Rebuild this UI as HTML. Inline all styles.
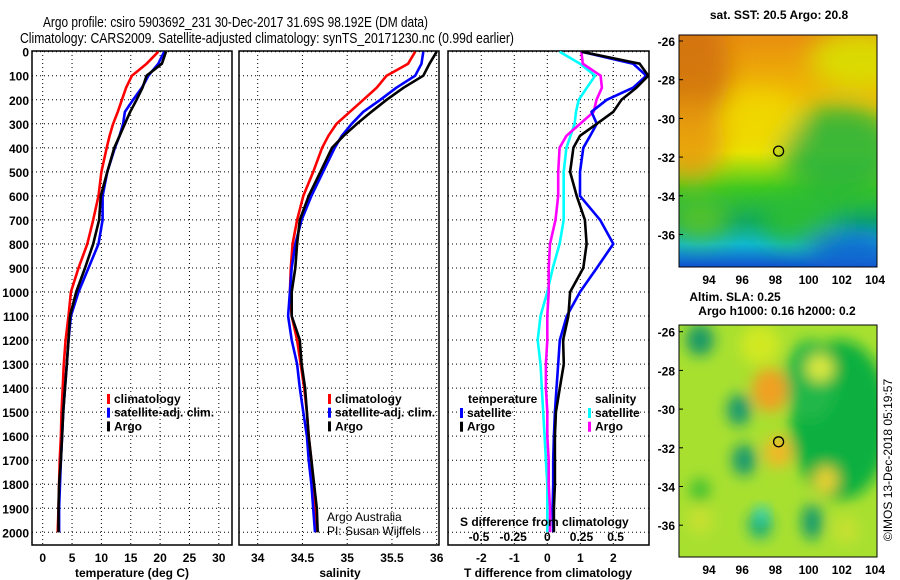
<!DOCTYPE html>
<html><head><meta charset="utf-8"><style>
html,body{margin:0;padding:0;background:#fff}
svg{display:block;font-family:"Liberation Sans",sans-serif}
.tk{font-size:12px;font-weight:bold}
</style></head><body>
<svg id="chart" width="900" height="580" viewBox="0 0 900 580" xmlns="http://www.w3.org/2000/svg">
<defs>
<filter id="blur6" x="-50%" y="-50%" width="200%" height="200%"><feGaussianBlur stdDeviation="7"/></filter>
<filter id="blur10" x="-50%" y="-50%" width="200%" height="200%"><feGaussianBlur stdDeviation="12"/></filter>
<clipPath id="c1"><rect x="32" y="51" width="200" height="494"/></clipPath>
<clipPath id="c2"><rect x="239" y="51" width="200" height="494"/></clipPath>
<clipPath id="c3"><rect x="448" y="51" width="201" height="494"/></clipPath>
<clipPath id="cm1"><rect x="679" y="35" width="198" height="232"/></clipPath>
<clipPath id="cm2"><rect x="679" y="325" width="198" height="232"/></clipPath>
<linearGradient id="sstg" x1="0" y1="0" x2="0" y2="1">
<stop offset="0" stop-color="#e88e10"/><stop offset="0.3" stop-color="#f0c000"/><stop offset="0.5" stop-color="#e8e800"/><stop offset="0.66" stop-color="#40c820"/><stop offset="0.8" stop-color="#10a860"/><stop offset="0.9" stop-color="#10b8d0"/><stop offset="1" stop-color="#1050d0"/>
</linearGradient>
</defs>
<text x="43" y="27" font-size="15" textLength="385" lengthAdjust="spacingAndGlyphs">Argo profile: csiro 5903692_231 30-Dec-2017 31.69S 98.192E (DM data)</text>
<text x="20" y="43" font-size="15" textLength="494" lengthAdjust="spacingAndGlyphs">Climatology: CARS2009. Satellite-adjusted climatology: synTS_20171230.nc (0.99d earlier)</text>
<g id="plots"></g>
<g id="maps"></g>
</svg>
<script>
const depths=[0,50,100,150,200,250,300,350,400,500,600,700,800,900,1000,1100,1200,1300,1400,1500,1600,1700,1800,1900,2000];
const tClim=[19.7,17.7,15.2,14.2,13.5,12.8,12.0,11.4,10.9,10.0,9.5,8.6,7.6,6.1,4.8,4.4,3.9,3.6,3.4,3.2,3.1,2.9,2.8,2.7,2.55];
const tSat=[20.7,19.7,18.0,16.9,15.4,14.0,13.7,13.1,12.3,11.0,10.2,10.2,9.5,7.8,6.1,4.8,4.4,4.1,3.8,3.5,3.3,3.1,2.95,2.8,2.8];
const tArgo=[21.0,20.3,17.7,17.0,16.0,14.9,14.0,13.1,12.2,11.0,9.9,9.6,8.6,7.2,5.7,4.65,4.4,4.1,3.8,3.5,3.3,3.1,2.8,2.7,2.7];
const sClim=[35.76,35.68,35.44,35.33,35.18,35.03,34.88,34.79,34.72,34.62,34.51,34.44,34.39,34.37,34.36,34.38,34.44,34.48,34.52,34.55,34.57,34.60,34.62,34.64,34.66];
const sSat=[35.85,35.83,35.76,35.55,35.37,35.18,35.05,34.94,34.86,34.73,34.60,34.49,34.42,34.38,34.36,34.34,34.38,34.44,34.47,34.51,34.55,34.57,34.60,34.62,34.64];
const sArgo=[36.0,35.92,35.85,35.63,35.44,35.27,35.11,34.96,34.83,34.70,34.57,34.47,34.44,34.42,34.38,34.38,34.47,34.49,34.53,34.55,34.57,34.60,34.63,34.66,34.67];
const dTSat=[1.04,2.6,3.0,2.6,1.8,1.34,1.5,1.3,1.09,0.99,0.99,1.6,2.0,1.5,0.99,0.59,0.38,0.33,0.28,0.23,0.2,0.18,0.18,0.16,0.18];
const dTArgo=[1.04,2.8,3.06,2.7,2.25,2.0,1.5,0.99,0.79,0.69,0.89,1.14,1.19,1.09,0.69,0.64,0.48,0.5,0.38,0.26,0.23,0.23,0.23,0.2,0.2];
const dSSat=[0.09,0.24,0.35,0.29,0.23,0.21,0.20,0.17,0.14,0.12,0.12,0.12,0.09,0.04,0.0,-0.05,-0.07,-0.05,-0.04,-0.03,-0.02,-0.01,0.0,0.0,0.0];
const dSArgo=[0.25,0.26,0.39,0.40,0.36,0.34,0.24,0.14,0.09,0.08,0.08,0.06,0.02,0.01,0.01,0.0,0.0,-0.01,-0.01,0.0,0.0,0.01,0.01,0.02,0.02];
const depthTicks=[0,100,200,300,400,500,600,700,800,900,1000,1100,1200,1300,1400,1500,1600,1700,1800,1900,2000];
const tTicks=[0,5,10,15,20,25,30];
const sTicks=[34,34.5,35,35.5,36];
const dTTicks=[-2,-1,0,1,2];
const dSTicks=[-0.5,-0.25,0,0.25,0.5];
const dSTickLabels=["-0.5","-0.25","0","0.25","0.5"];
const latTicks=[-26,-28,-30,-32,-34,-36];
const lonTicks=[94,96,98,100,102,104];
const floatLon=98.192, floatLat=-31.69;

const NS="http://www.w3.org/2000/svg";
function mk(tag,attrs,parent,txt){const e=document.createElementNS(NS,tag);for(const k in attrs)e.setAttribute(k,attrs[k]);if(txt!==undefined)e.textContent=txt;parent.appendChild(e);return e;}
const y=d=>51.7+d*0.2403;
const xT=v=>42.7+v*5.87;
const xS=v=>257.7+(v-34)*89.5;
const xDT=v=>547.3+v*33;
const xDS=v=>547.3+v*136.6;
const G=document.getElementById('plots');
const panels=[{x0:32,x1:232,clip:'c1',name:'temperature'},{x0:239,x1:439,clip:'c2',name:'salinity'},{x0:448,x1:649,clip:'c3',name:'difference'}];

function frame(p,xticks,xf,labels){
  const g=mk('g',{},G);
  
  
  depthTicks.forEach(d=>{const l=mk('line',{x1:p.x0,x2:p.x1,y1:y(d),y2:y(d),stroke:'#000','stroke-width':1,'stroke-dasharray':'1,3'},g);
    });
  xticks.forEach((v,i)=>{const X=xf(v);const l=mk('line',{x1:X,x2:X,y1:51,y2:545,stroke:'#000','stroke-width':1,'stroke-dasharray':'1,3'},g);
    
    const t=mk('text',{x:X,y:562,'text-anchor':'middle',class:'tk'},g,labels?labels[i]:String(v));
    });
  const r=mk('rect',{x:p.x0,y:51,width:p.x1-p.x0,height:494,fill:'none',stroke:'#000','stroke-width':1.5},g);
  
  return g;
}
function line(g,xs,xf,col,clip,name){
  const pts=xs.map((v,i)=>xf(v).toFixed(1)+','+y(depths[i]).toFixed(1)).join(' ');
  const pl=mk('polyline',{points:pts,fill:'none',stroke:col,'stroke-width':2.6,'stroke-linejoin':'round','clip-path':'url(#'+clip+')'},g);
  
}
function legend(g,x,y0,items,name){
  items.forEach((it,i)=>{const yy=y0+i*13.7;
    const b=mk('rect',{x:x,y:yy-9,width:3,height:10,fill:it[1]},g);
    
    const t=mk('text',{x:x+7,y:yy,class:'tk'},g,it[0]);
    });
}
// panel 1
const g1=frame(panels[0],tTicks,xT);
depthTicks.forEach(d=>{const t=mk('text',{x:29,y:y(d)+5,'text-anchor':'end',class:'tk'},g1,String(d));
  });
line(g1,tClim,xT,'#ff0000','c1','temp-climatology-line');
line(g1,tSat,xT,'#0000ff','c1','temp-satellite-line');
line(g1,tArgo,xT,'#000000','c1','temp-argo-line');
legend(g1,107,403,[['climatology','#f00'],['satellite-adj. clim.','#00f'],['Argo','#000']],'temp-legend');
let t=mk('text',{x:132,y:577,'text-anchor':'middle',class:'tk'},g1,'temperature (deg C)');

// panel 2
const g2=frame(panels[1],sTicks,xS);
line(g2,sClim,xS,'#ff0000','c2','sal-climatology-line');
line(g2,sSat,xS,'#0000ff','c2','sal-satellite-line');
line(g2,sArgo,xS,'#000000','c2','sal-argo-line');
legend(g2,328,403,[['climatology','#f00'],['satellite-adj. clim.','#00f'],['Argo','#000']],'sal-legend');
t=mk('text',{x:340,y:577,'text-anchor':'middle',class:'tk'},g2,'salinity');

t=mk('text',{x:327,y:521,'font-size':12},g2,'Argo Australia');

t=mk('text',{x:327,y:535,'font-size':12},g2,'PI: Susan Wijffels');

// panel 3
const g3=frame(panels[2],dTTicks,xDT);
line(g3,dSSat,xDS,'#00ffff','c3','sdiff-satellite-line');
line(g3,dSArgo,xDS,'#ff00ff','c3','sdiff-argo-line');
line(g3,dTSat,xDT,'#0000ff','c3','tdiff-satellite-line');
line(g3,dTArgo,xDT,'#000000','c3','tdiff-argo-line');
t=mk('text',{x:468,y:403,class:'tk'},g3,'temperature');

t=mk('text',{x:595,y:403,class:'tk'},g3,'salinity');

legend(g3,460,417,[['satellite','#00f'],['Argo','#000']],'tdiff-legend');
legend(g3,588,417,[['satellite','#0ff'],['Argo','#f0f']],'sdiff-legend');
t=mk('text',{x:460,y:526,class:'tk'},g3,'S difference from climatology');

dSTicks.forEach((v,i)=>{const tt=mk('text',{x:xDS(v),y:541,'text-anchor':'middle',class:'tk'},g3,dSTickLabels[i]);
  });
t=mk('text',{x:548,y:577,'text-anchor':'middle',class:'tk'},g3,'T difference from climatology');


// maps
const M=document.getElementById('maps');
function mapAxes(g,top,lat0y){
  const lonX=v=>709+(v-94)*16.6;
  const latY=v=>lat0y+(-26-v)*19.35;
  latTicks.forEach(v=>{const tt=mk('text',{x:675,y:latY(v)+5,'text-anchor':'end',class:'tk'},g,String(v));
    
    const tl=mk('line',{x1:679,x2:683,y1:latY(v),y2:latY(v),stroke:'#000'},g);});
  lonTicks.forEach(v=>{const tt=mk('text',{x:lonX(v),y:top+232+17,'text-anchor':'middle',class:'tk'},g,String(v));
    });
  const cx=lonX(floatLon),cy=latY(floatLat);
  const c=mk('circle',{cx:cx,cy:cy,r:5,fill:'none',stroke:'#000','stroke-width':1.3},g);
  
  const r=mk('rect',{x:679,y:top,width:198,height:232,fill:'none',stroke:'#000','stroke-width':1},g);
  
}
// SST map
const m1=mk('g',{},M);
const f1=mk('g',{'clip-path':'url(#cm1)'},m1);
mk('rect',{x:679,y:35,width:198,height:232,fill:'url(#sstg)'},f1);
const b1=mk('g',{filter:'url(#blur10)'},f1);
[[690,70,40,60,'#d07010'],[690,140,35,40,'#e89a10'],[860,60,50,30,'#d8e400'],[840,150,60,45,'#20b040'],[800,220,40,25,'#30c030'],[700,220,30,20,'#60c820'],[850,250,45,20,'#1060d0'],[760,120,40,30,'#f0d800']].forEach(a=>mk('ellipse',{cx:a[0],cy:a[1],rx:a[2],ry:a[3],fill:a[4],opacity:0.85},b1));
mapAxes(m1,35,41);
t=mk('text',{x:779,y:19,'text-anchor':'middle',class:'tk'},m1,'sat. SST: 20.5 Argo: 20.8');

// SLA map
const m2=mk('g',{},M);
const f2=mk('g',{'clip-path':'url(#cm2)'},m2);
mk('rect',{x:679,y:325,width:198,height:232,fill:'#a8e030'},f2);
const b2=mk('g',{filter:'url(#blur6)'},f2);
[[840,420,50,80,'#10b040'],[810,380,25,40,'#20b848'],[760,345,20,20,'#d0e820'],[770,390,18,22,'#f0a020'],[778,452,14,16,'#f0b828'],[739,410,12,16,'#189870'],[744,460,12,16,'#189870'],[760,525,12,14,'#1db07a'],[700,340,14,16,'#189868'],[820,368,14,14,'#d8e840'],[826,480,12,14,'#e8d030'],[812,522,10,18,'#109870'],[846,530,12,14,'#c8e030'],[700,520,12,14,'#c8e030'],[700,490,10,12,'#40c030']].forEach(a=>mk('ellipse',{cx:a[0],cy:a[1],rx:a[2],ry:a[3],fill:a[4]},b2));
mk('ellipse',{cx:762,cy:514,rx:6,ry:7,fill:'#30e0e0',filter:'url(#blur6)'},f2);
mapAxes(m2,325,331.7);
t=mk('text',{x:735,y:301,'text-anchor':'middle',class:'tk'},m2,'Altim. SLA: 0.25');

t=mk('text',{x:777,y:315,'text-anchor':'middle',class:'tk'},m2,'Argo h1000: 0.16 h2000: 0.2');

t=mk('text',{x:0,y:0,'font-size':12,transform:'translate(892,460) rotate(-90)','text-anchor':'middle'},M,'©IMOS 13-Dec-2018 05:19:57');

</script>
</body></html>
